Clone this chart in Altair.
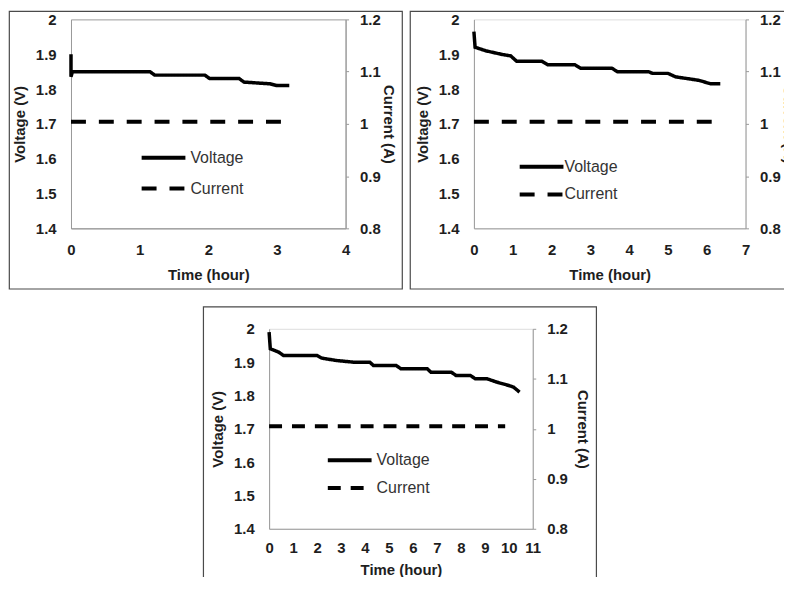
import altair as alt
import pandas as pd

# ---------------- data ----------------
# Panel 1 (0-4 h)
t1 = [0, 0.0, 0.02, 1.15, 1.22, 1.95, 2.02, 2.45, 2.52, 2.9, 3.0, 3.18]
v1 = [1.90, 1.835, 1.85, 1.85, 1.84, 1.84, 1.83, 1.83, 1.82, 1.815, 1.81, 1.81]
ct1 = [0, 3.18]
c1 = [1.004, 1.004]

# Panel 2 (0-7 h)
t2 = [0, 0.03, 0.3, 0.7, 0.95, 1.1, 1.75, 1.9, 2.6, 2.75, 3.55, 3.7, 4.5, 4.6,
      5.0, 5.2, 5.5, 5.8, 6.1, 6.35]
v2 = [1.965, 1.92, 1.91, 1.90, 1.895, 1.88, 1.88, 1.87, 1.87, 1.86, 1.86, 1.85,
      1.85, 1.845, 1.845, 1.835, 1.83, 1.825, 1.815, 1.815]
ct2 = [0, 6.35]
c2 = [1.004, 1.004]

# Panel 3 (0-11 h)
t3 = [0, 0.05, 0.4, 0.6, 2.0, 2.2, 2.8, 3.5, 4.2, 4.35, 5.3, 5.5, 6.6, 6.75,
      7.6, 7.8, 8.4, 8.6, 9.1, 9.5, 10.0, 10.2, 10.45]
v3 = [1.99, 1.94, 1.93, 1.92, 1.92, 1.912, 1.905, 1.90, 1.90, 1.89, 1.89, 1.88,
      1.88, 1.87, 1.87, 1.86, 1.86, 1.85, 1.85, 1.84, 1.83, 1.825, 1.81]
ct3 = [0, 9.85]
c3 = [1.005, 1.005]

series_names = ["Voltage", "Current"]
volt_ticks = [1.4, 1.5, 1.6, 1.7, 1.8, 1.9, 2.0]
curr_ticks = [0.8, 0.9, 1.0, 1.1, 1.2]
volt_title = "Voltage (V)"
curr_title = "Current (A)"
time_title = "Time (hour)"

FONT = "Liberation Sans"
TXT = "#1e1e1e"
AX = "#9a9a9a"
FS = 15
SYM_LEN = 44.0


def panel(t, v, ct, c, xmax, W, H, L, R, T, B, legx, legy, row_gap, text_gap,
          dash, top_line, xlabpad=14, xtitlepad=10, rtitlepad=0):
    dv = pd.DataFrame({"t": t, "val": v, "series": series_names[0],
                       "i": list(range(len(t)))})
    dc = pd.DataFrame({"t": ct, "val": c, "series": series_names[1],
                       "i": list(range(len(ct)))})

    # legend symbol geometry: entry height driven by sqrt(symbolSize)
    side = 2.0 * (row_gap - 10.0)
    k = SYM_LEN / side
    sym_path = "M-%.3f,0H%.3f" % (k, k)

    x = alt.X("t:Q",
              scale=alt.Scale(domain=[0, xmax], nice=False, zero=False),
              axis=alt.Axis(values=list(range(xmax + 1)), format="d",
                            ticks=False, tickSize=0, labelPadding=xlabpad,
                            labelFlush=False, labelOverlap=False,
                            domainColor=AX, grid=False,
                            labelFont=FONT, labelFontSize=FS,
                            labelFontWeight="bold", labelColor=TXT,
                            title=time_title, titleFont=FONT,
                            titleFontSize=FS, titleFontWeight="bold",
                            titleColor=TXT, titlePadding=xtitlepad))

    sd = alt.StrokeDash(
        "series:N",
        scale=alt.Scale(domain=series_names, range=[[1, 0], dash]),
        legend=alt.Legend(orient="none", legendX=legx, legendY=legy,
                          title=None, symbolType=sym_path,
                          symbolSize=side * side,
                          symbolStrokeWidth=4, symbolStrokeColor="black",
                          symbolFillColor="transparent",
                          labelFont=FONT, labelFontSize=16,
                          labelColor="#333333",
                          labelOffset=(SYM_LEN - side) / 2.0 + text_gap,
                          rowPadding=2))

    volt = alt.Chart(dv).mark_line(color="black", strokeWidth=3.5).encode(
        x=x,
        y=alt.Y("val:Q",
                scale=alt.Scale(domain=[1.4, 2.0], nice=False, zero=False),
                axis=alt.Axis(orient="left", values=volt_ticks, format=".1~f",
                              ticks=False, tickSize=0, labelPadding=15,
                              domainColor=AX, grid=False,
                              labelFont=FONT, labelFontSize=FS,
                              labelFontWeight="bold", labelColor=TXT,
                              title=volt_title, titleFont=FONT,
                              titleFontSize=FS, titleFontWeight="bold",
                              titleColor=TXT, titlePadding=8)),
        strokeDash=sd,
        order="i:Q",
    )

    curr = alt.Chart(dc).mark_line(color="black", strokeWidth=4).encode(
        x=x,
        y=alt.Y("val:Q",
                scale=alt.Scale(domain=[0.8, 1.2], nice=False, zero=False),
                axis=alt.Axis(orient="right", values=curr_ticks, format=".1~f",
                              ticks=True, tickSize=3, tickColor=AX,
                              labelPadding=11, domainColor=AX, grid=False,
                              labelFont=FONT, labelFontSize=FS,
                              labelFontWeight="bold", labelColor=TXT,
                              title=curr_title, titleFont=FONT,
                              titleFontSize=FS, titleFontWeight="bold",
                              titleColor=TXT, titlePadding=rtitlepad)),
        strokeDash=sd,
        order="i:Q",
    )

    frame = alt.Chart(pd.DataFrame({"k": [0]})).mark_rect(
        filled=False, color="#4a4a4a", strokeWidth=1.2
    ).encode(
        x=alt.value(-L), x2=alt.value(W + R),
        y=alt.value(-T), y2=alt.value(H + B),
    )

    ch = alt.layer(frame, volt, curr).resolve_scale(y="independent")
    if top_line:
        ch = ch.properties(width=W, height=H,
                           view=alt.ViewBackground(stroke=AX, strokeWidth=1))
    else:
        ch = ch.properties(width=W, height=H)
    return ch


p1 = panel(t1, v1, ct1, c1, 4, 276, 210, 62, 57, 8, 61, 72, 118, 29, 3,
           [15, 13], True, rtitlepad=0)
p2 = panel(t2, v2, ct2, c2, 7, 273, 210, 64, 47, 8, 61, 50, 130, 26, -1,
           [15, 13], False, rtitlepad=0)
p3 = panel(t3, v3, ct3, c3, 11, 265, 201, 66, 64, 22, 60, 63, 114, 26, 3,
           [13, 10], False, xlabpad=12, xtitlepad=7, rtitlepad=7)

top = alt.hconcat(p1, p2, spacing=4).resolve_scale(
    strokeDash="independent").resolve_legend(strokeDash="independent")

chart = alt.vconcat(top, p3, spacing=14, center=True).resolve_scale(
    strokeDash="independent").resolve_legend(
    strokeDash="independent").properties(
    padding={"left": 0, "top": 0, "right": -12, "bottom": -15}
).configure_view(strokeWidth=0).configure(background="white")

chart.save("out.html", embed_options={"renderer": "svg", "actions": False})
